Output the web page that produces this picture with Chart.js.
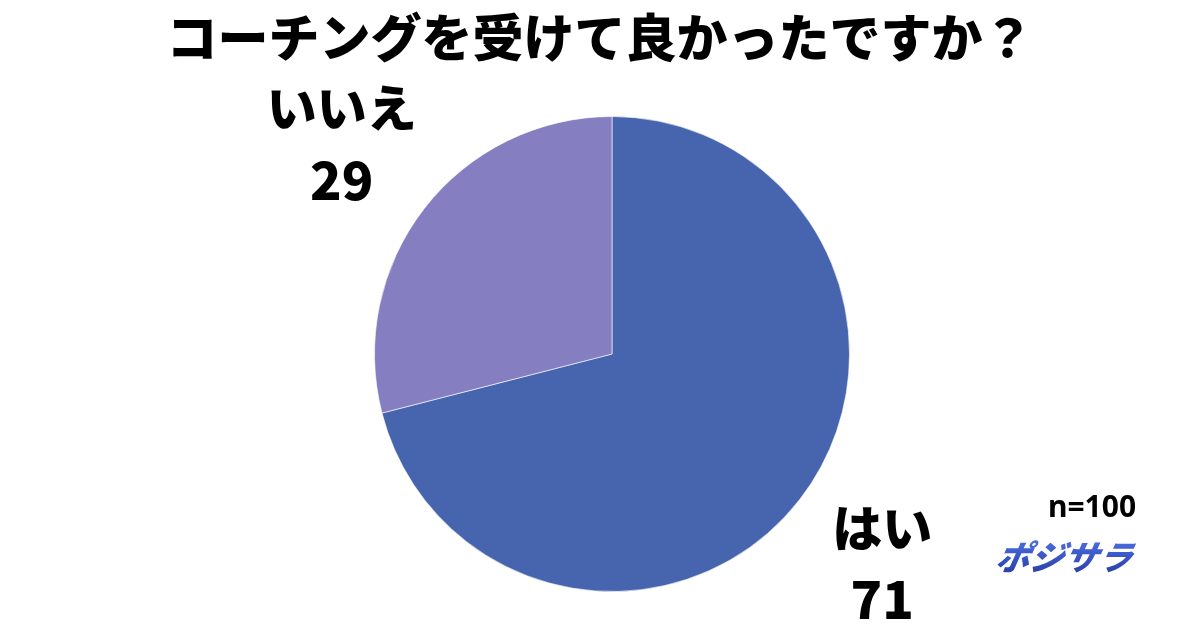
<!DOCTYPE html>
<html>
<head>
<meta charset="utf-8">
<script src="https://cdn.jsdelivr.net/npm/chart.js@4/dist/chart.umd.min.js"></script>
<style>
  html, body { margin: 0; padding: 0; background: #fff; }
  #wrap { width: 1200px; height: 630px; position: relative; }
</style>
</head>
<body>
<div id="wrap"><canvas id="pie"></canvas></div>
<script>
// コーチングを受けて良かったですか？ (n=100)
const titleText = 'コーチングを受けて良かったですか？';
const labels = ['はい', 'いいえ'];
const values = [71, 29];
const colors = ['#4765ae', '#857ec0'];
const sampleNote = 'n=100';
const brandText = 'ポジサラ';

const JP = '"Noto Sans CJK JP", "Noto Sans", sans-serif';

const labelPlugin = {
  id: 'pieLabels',
  afterDraw(chart) {
    const ctx = chart.ctx;
    const meta = chart.getDatasetMeta(0);
    ctx.save();

    // title
    ctx.fillStyle = '#000';
    ctx.font = '900 51px ' + JP;
    ctx.textAlign = 'center';
    ctx.textBaseline = 'middle';
    ctx.fillText(titleText, 600, 38);

    // slice labels outside the pie, at mid angle
    meta.data.forEach((arc, i) => {
      const p = arc.getProps(['x', 'y', 'startAngle', 'endAngle', 'outerRadius'], true);
      const mid = (p.startAngle + p.endAngle) / 2;
      const r = p.outerRadius * 1.44;
      const lx = p.x + Math.cos(mid) * r;
      const ly = p.y + Math.sin(mid) * r;
      ctx.fillStyle = '#000';
      ctx.font = '900 50px ' + JP;
      ctx.fillText(labels[i], lx, ly - 36);
      ctx.font = '900 52px ' + JP;
      ctx.fillText(String(values[i]), lx, ly + 36);
    });

    // sample size
    ctx.font = 'bold 30px "Noto Sans", sans-serif';
    ctx.fillStyle = '#000';
    ctx.fillText(sampleNote, 1092, 508);

    // brand logo
    ctx.font = 'italic 900 34px ' + JP;
    const g = ctx.createLinearGradient(0, 540, 0, 574);
    g.addColorStop(0, '#4a6ee0');
    g.addColorStop(1, '#2a3fa8');
    ctx.fillStyle = g;
    ctx.setTransform(1, 0, -0.2, 1, 111, 0);
    ctx.fillText(brandText, 1065, 557);
    ctx.restore();
  }
};

new Chart(document.getElementById('pie'), {
  type: 'pie',
  data: {
    labels: labels,
    datasets: [{
      data: values,
      backgroundColor: colors,
      borderColor: 'rgba(255,255,255,0.6)',
      borderWidth: 1
    }]
  },
  options: {
    responsive: true,
    maintainAspectRatio: false,
    animation: false,
    layout: { padding: { top: 116, bottom: 38, left: 374, right: 350 } },
    plugins: {
      legend: { display: false },
      tooltip: { enabled: false },
      title: { display: false }
    }
  },
  plugins: [labelPlugin]
});
</script>
</body>
</html>
